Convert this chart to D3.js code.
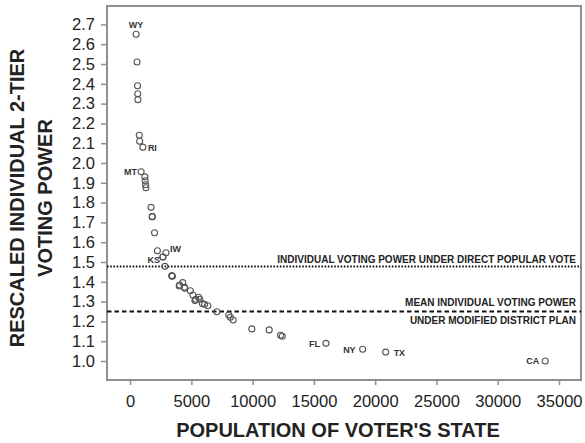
<!DOCTYPE html>
<html>
<head>
<meta charset="utf-8">
<script src="https://cdn.jsdelivr.net/npm/d3@7"></script>
<style>
  html, body { margin: 0; padding: 0; background: #fff; }
  svg { display: block; }
  text { font-family: "Liberation Sans", Arial, sans-serif; }
</style>
</head>
<body>
<script>
// State populations (thousands) and rescaled 2-tier voting power
const states = ["WY","DC","VT","AK","ND","SD","DE","MT","RI","HI","NH","ME","ID",
  "NE","WV","NM","NV","UT","AR","KS","MS","IA","CT","OR","OK","SC","KY","CO","AL","LA",
  "MN","AZ","MD","WI","MO","TN","WA","IN","MA","VA","NC","GA","NJ","MI","OH","PA","IL",
  "FL","NY","TX","CA"];
const population = [494,572,609,627,642,755,784,902,1048,1212,1236,1275,1294,
  1711,1808,1819,1998,2233,2673,2688,2845,2926,3406,3421,3451,4012,4042,4301,4447,4469,
  4919,5131,5296,5364,5595,5689,5894,6080,6349,7079,8049,8186,8414,9938,11353,12281,12419,
  15982,18976,20852,33872];
const power = [2.65,2.51,2.39,2.35,2.32,2.14,2.11,1.956,2.08,1.93,1.91,1.89,1.875,
  1.776,1.729,1.729,1.648,1.557,1.525,1.525,1.478,1.547,1.43,1.43,1.428,1.379,1.384,1.396,1.372,1.368,
  1.355,1.333,1.305,1.312,1.322,1.312,1.29,1.286,1.279,1.249,1.232,1.221,1.207,1.162,1.157,1.13,1.125,
  1.089,1.059,1.045,1.0];

const labelled = ["WY","RI","MT","KS","IW","FL","NY","TX","CA"];
const labelOf = { IA: "IW" };

const xTicks = [0,5000,10000,15000,20000,25000,30000,35000];
const yTicks = [1.0,1.1,1.2,1.3,1.4,1.5,1.6,1.7,1.8,1.9,2.0,2.1,2.2,2.3,2.4,2.5,2.6,2.7];

const directPopularVote = 1.477;
const meanDistrictPlan = 1.25;

const W = 585, H = 443;
const m = { left: 107, top: 6, right: 4, bottom: 63 };

const svg = d3.select("body").append("svg").attr("width", W).attr("height", H);

const x = d3.scaleLinear().domain([-1880, 36790]).range([m.left, W - m.right]);
const y = d3.scaleLinear().domain([0.904, 2.793]).range([H - m.bottom, m.top]);

const frame = "#8f8f8f";
const ink = "#222";

// axes
const gx = svg.append("g").attr("transform", `translate(0,${H - m.bottom})`)
  .call(d3.axisBottom(x).tickValues(xTicks).tickFormat(d3.format("d")).tickSize(5).tickPadding(10));
const gy = svg.append("g").attr("transform", `translate(${m.left},0)`)
  .call(d3.axisLeft(y).tickValues(yTicks).tickFormat(d3.format(".1f")).tickSize(6).tickPadding(6));
[gx, gy].forEach(g => {
  g.select(".domain").remove();
  g.selectAll(".tick line").attr("stroke", frame).attr("stroke-width", 1.5);
  g.selectAll(".tick text").attr("fill", ink).style("font-size", "16.5px");
});

// plot frame
svg.append("rect")
  .attr("x", m.left).attr("y", m.top)
  .attr("width", W - m.left - m.right).attr("height", H - m.top - m.bottom)
  .attr("fill", "none").attr("stroke", frame).attr("stroke-width", 2);

// reference lines
svg.append("line")
  .attr("x1", m.left).attr("x2", W - m.right)
  .attr("y1", y(directPopularVote)).attr("y2", y(directPopularVote))
  .attr("stroke", "#111").attr("stroke-width", 2).attr("stroke-dasharray", "1.6,1.6");
svg.append("line")
  .attr("x1", m.left).attr("x2", W - m.right)
  .attr("y1", y(meanDistrictPlan)).attr("y2", y(meanDistrictPlan))
  .attr("stroke", "#111").attr("stroke-width", 2).attr("stroke-dasharray", "4.5,3");

const refText = (txt, yy) => svg.append("text")
  .attr("x", W - 9).attr("y", yy).attr("text-anchor", "end")
  .attr("fill", ink).style("font-size", "10px").style("font-weight", "bold").text(txt);
refText("INDIVIDUAL VOTING POWER UNDER DIRECT POPULAR VOTE", y(directPopularVote) - 4);
refText("MEAN INDIVIDUAL VOTING POWER", y(meanDistrictPlan) - 5);
refText("UNDER MODIFIED DISTRICT PLAN", y(meanDistrictPlan) + 13);

// points
const data = states.map((s, i) => ({ s, pop: population[i], v: power[i] }));
svg.append("g").selectAll("circle").data(data).join("circle")
  .attr("cx", d => x(d.pop)).attr("cy", d => y(d.v)).attr("r", 3)
  .attr("fill", "none").attr("stroke", "#555").attr("stroke-width", 1.1);

// state labels: side of the marker the abbreviation sits on
const place = {
  WY: { dx: 0, dy: -6, anchor: "middle" },
  RI: { dx: 5, dy: 3.5, anchor: "start" },
  MT: { dx: -4, dy: 3, anchor: "end" },
  KS: { dx: -3, dy: 6, anchor: "end" },
  IW: { dx: 4, dy: -1, anchor: "start" },
  FL: { dx: -6, dy: 3.5, anchor: "end" },
  NY: { dx: -7, dy: 3.5, anchor: "end" },
  TX: { dx: 8, dy: 4, anchor: "start" },
  CA: { dx: -6, dy: 3.5, anchor: "end" }
};
svg.append("g").selectAll("text")
  .data(data.filter(d => labelled.includes(labelOf[d.s] || d.s)))
  .join("text")
  .each(function (d) {
    const name = labelOf[d.s] || d.s;
    const p = place[name];
    d3.select(this)
      .attr("x", x(d.pop) + p.dx).attr("y", y(d.v) + p.dy)
      .attr("text-anchor", p.anchor)
      .attr("fill", "#333").style("font-size", "9px").style("font-weight", "bold")
      .text(name);
  });

// axis titles
svg.append("text")
  .attr("x", (m.left + W - m.right) / 2 - 6).attr("y", 437)
  .attr("text-anchor", "middle").attr("fill", ink)
  .style("font-size", "20px").style("font-weight", "bold")
  .text("POPULATION OF VOTER'S STATE");

const yt = svg.append("text")
  .attr("transform", "translate(0,198) rotate(-90)")
  .attr("text-anchor", "middle").attr("fill", ink)
  .style("font-size", "20px").style("font-weight", "bold");
yt.append("tspan").attr("x", 0).attr("y", 24).text("RESCALED INDIVIDUAL 2-TIER");
yt.append("tspan").attr("x", 0).attr("y", 52).text("VOTING POWER");
</script>
</body>
</html>
